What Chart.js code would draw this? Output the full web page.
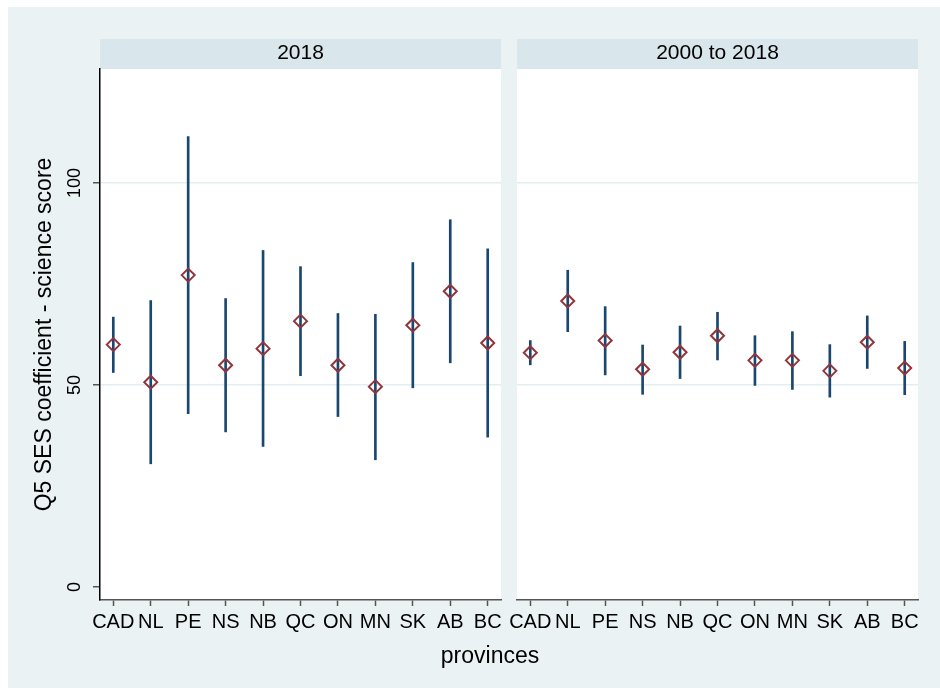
<!DOCTYPE html>
<html>
<head>
<meta charset="utf-8">
<script src="https://cdn.jsdelivr.net/npm/chart.js@4.4.1/dist/chart.umd.min.js"></script>
<style>
  body { margin: 0; background: #fff; }
  #wrap { position: relative; width: 940px; height: 688px; }
  #bg { position: absolute; left: 8px; top: 7px; width: 932px; height: 681px; background: #eaf2f3; }
  canvas { position: absolute; left: 0; top: 0; }
</style>
</head>
<body>
<div id="wrap">
  <div id="bg"></div>
  <canvas id="left" width="940" height="688"></canvas>
  <canvas id="right" width="940" height="688"></canvas>
</div>
<script>
// data
const provinces = ['CAD', 'NL', 'PE', 'NS', 'NB', 'QC', 'ON', 'MN', 'SK', 'AB', 'BC'];
const panelTitles = ['2018', '2000 to 2018'];

const coef2018 = [60.0, 50.7, 77.2, 54.9, 59.0, 65.8, 54.9, 49.6, 64.8, 73.2, 60.4];
const low2018  = [53.1, 30.5, 42.9, 38.4, 34.8, 52.3, 42.2, 31.5, 49.3, 55.5, 37.1];
const high2018 = [66.8, 70.9, 111.5, 71.4, 83.3, 79.3, 67.7, 67.5, 80.3, 90.9, 83.7];

const coefAll = [58.0, 70.8, 61.0, 53.9, 58.1, 62.2, 56.1, 56.1, 53.5, 60.6, 54.2];
const lowAll  = [55.0, 63.2, 52.5, 47.7, 51.6, 56.2, 49.9, 48.9, 47.0, 54.1, 47.6];
const highAll = [61.0, 78.4, 69.4, 59.9, 64.6, 68.0, 62.2, 63.2, 60.0, 67.1, 60.8];

const yTicks = [0, 50, 100];
const yTitle = 'Q5 SES coefficient - science score';
const xTitle = 'provinces';

const NAVY = '#1a476f';
const MAROON = '#90353b';
const GRID = '#e4edf0';
const STRIP = '#d9e6eb';

Chart.defaults.font.family = '"Liberation Sans", Arial, Helvetica, sans-serif';
Chart.defaults.color = '#000';

// white plot region + title strip above it
const panelPlugin = {
  id: 'panel',
  beforeDraw(chart, args, opts) {
    const { ctx, chartArea: a } = chart;
    ctx.save();
    ctx.fillStyle = '#fff';
    ctx.fillRect(a.left, a.top, a.right - a.left, a.bottom - a.top);
    ctx.fillStyle = STRIP;
    ctx.fillRect(a.left, a.top - 30, a.right - a.left, 30);
    ctx.fillStyle = '#000';
    ctx.font = '21px ' + Chart.defaults.font.family;
    ctx.textAlign = 'center';
    ctx.textBaseline = 'middle';
    ctx.fillText(opts.title, (a.left + a.right) / 2, a.top - 15.5);
    if (opts.xTitle) {
      ctx.font = '23px ' + Chart.defaults.font.family;
      ctx.fillText(opts.xTitle, opts.xTitleX, 657);
    }
    ctx.restore();
  }
};

function makePanel(id, title, coef, low, high, isLeft) {
  const bars = provinces.map((p, i) => ({ x: i, y: [low[i], high[i]] }));
  const points = provinces.map((p, i) => ({ x: i, y: coef[i] }));

  return new Chart(document.getElementById(id), {
    type: 'bar',
    data: {
      datasets: [
        {
          type: 'line',
          data: points,
          showLine: false,
          pointStyle: 'rectRot',
          pointRadius: 6.5,
          pointBorderWidth: 2,
          pointBorderColor: MAROON,
          pointBackgroundColor: 'rgba(0,0,0,0)',
          order: 0
        },
        {
          type: 'bar',
          data: bars,
          barThickness: 2,
          backgroundColor: NAVY,
          borderWidth: 0,
          order: 1
        }
      ]
    },
    plugins: [panelPlugin],
    options: {
      responsive: false,
      animation: false,
      devicePixelRatio: 1,
      layout: {
        padding: isLeft
          ? { left: 0, top: 69, right: 439, bottom: 0 }
          : { left: 517, top: 69, right: 22, bottom: 0 }
      },
      plugins: {
        legend: { display: false },
        tooltip: { enabled: false },
        panel: {
          title: title,
          xTitle: isLeft ? null : xTitle,
          xTitleX: 490
        }
      },
      scales: {
        x: {
          type: 'linear',
          offset: false,
          min: -0.355,
          max: 10.355,
          afterBuildTicks: axis => { axis.ticks = provinces.map((p, i) => ({ value: i })); },
          afterFit: axis => { axis.height = 88; },
          ticks: {
            autoSkip: false,
            maxRotation: 0,
            padding: 4,
            font: { size: 20 },
            callback: v => provinces[v]
          },
          grid: { offset: false, drawOnChartArea: false, drawTicks: true, tickLength: 6, tickColor: '#555', tickWidth: 1.5 },
          border: { display: true, color: '#555', width: 1.5 }
        },
        y: {
          min: -3.2,
          max: 128.2,
          afterBuildTicks: axis => { axis.ticks = yTicks.map(v => ({ value: v })); },
          afterFit: axis => { axis.width = isLeft ? 100 : 0; },
          ticks: {
            display: isLeft,
            minRotation: 90,
            crossAlign: 'center',
            padding: 3,
            font: { size: 18 }
          },
          grid: {
            color: c => (c.tick && c.tick.value === 0 ? 'rgba(0,0,0,0)' : GRID),
            lineWidth: 1.5,
            drawTicks: isLeft,
            tickLength: 7,
            tickColor: '#555',
            tickWidth: 1.5
          },
          border: { display: isLeft, color: '#000', width: 1.5 },
          title: {
            display: isLeft,
            text: yTitle,
            font: { size: 23 },
            padding: { top: 31, bottom: 0 }
          }
        }
      }
    }
  });
}

makePanel('left', panelTitles[0], coef2018, low2018, high2018, true);
makePanel('right', panelTitles[1], coefAll, lowAll, highAll, false);
</script>
</body>
</html>
